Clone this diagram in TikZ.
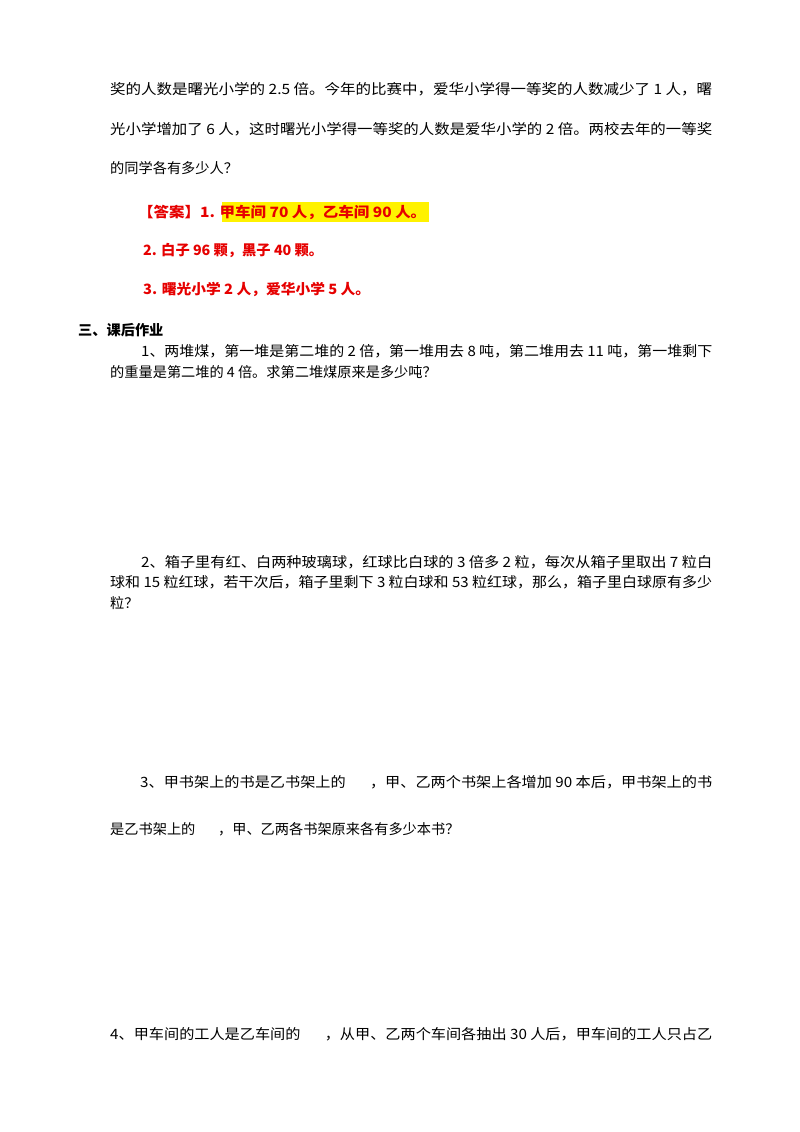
\documentclass[tikz,border=0pt]{standalone}
\usepackage{fontspec}
\usepackage{graphicx}
\setmainfont{Noto Sans CJK SC}
\definecolor{ansred}{RGB}{230,0,0}
\newcommand\fitw[2]{\resizebox{#1}{\height}{#2}}
\begin{document}
\begin{tikzpicture}[x=1pt,y=-1pt,
  tl/.style={anchor=west,inner sep=0pt,font=\fontsize{14.2}{16}\selectfont},
  ans/.style={anchor=west,inner sep=0pt,text=ansred,font=\fontsize{14.2}{16}\selectfont\bfseries}]
\useasboundingbox[fill=white] (0,0) rectangle (800,1132);
\node[tl] (l1) at (110,89) {\fitw{602pt}{奖的人数是曙光小学的 2.5 倍。今年的比赛中，爱华小学得一等奖的人数减少了 1 人，曙}};
\node[tl] (l2) at (110,129) {\fitw{602pt}{光小学增加了 6 人，这时曙光小学得一等奖的人数是爱华小学的 2 倍。两校去年的一等奖}};
\node[tl] (l3) at (110,168) {的同学各有多少人？};
\fill[yellow] (222,202) rectangle (429,222);
\node[ans] (a1) at (138,212) {\fitw{288pt}{【答案】1. 甲车间 70 人，乙车间 90 人。}};
\node[ans] (a2) at (143,250) {\fitw{180pt}{2. 白子 96 颗，黑子 40 颗。}};
\node[ans] (a3) at (143,289) {\fitw{227pt}{3. 曙光小学 2 人，爱华小学 5 人。}};
\node[ans,text=black] (h) at (78,330) {三、课后作业};
\node[tl] (q1a) at (141,351) {\fitw{571pt}{1、两堆煤，第一堆是第二堆的 2 倍，第一堆用去 8 吨，第二堆用去 11 吨，第一堆剩下}};
\node[tl] (q1b) at (110,372) {的重量是第二堆的 4 倍。求第二堆煤原来是多少吨？};
\node[tl] (q2a) at (141,562) {\fitw{571pt}{2、箱子里有红、白两种玻璃球，红球比白球的 3 倍多 2 粒，每次从箱子里取出 7 粒白}};
\node[tl] (q2b) at (110,582) {\fitw{602pt}{球和 15 粒红球，若干次后，箱子里剩下 3 粒白球和 53 粒红球，那么，箱子里白球原有多少}};
\node[tl] (q2c) at (110,603) {粒？};
\node[tl] (q3a) at (140,782) {\fitw{572pt}{3、甲书架上的书是乙书架上的\hspace{1.6em}，甲、乙两个书架上各增加 90 本后，甲书架上的书}};
\node[tl] (q3b) at (110,829) {是乙书架上的\hspace{1.6em}，甲、乙两各书架原来各有多少本书？};
\node[tl] (q4) at (110,1034) {\fitw{602pt}{4、甲车间的工人是乙车间的\hspace{1.6em}，从甲、乙两个车间各抽出 30 人后，甲车间的工人只占乙}};
\end{tikzpicture}
\end{document}
